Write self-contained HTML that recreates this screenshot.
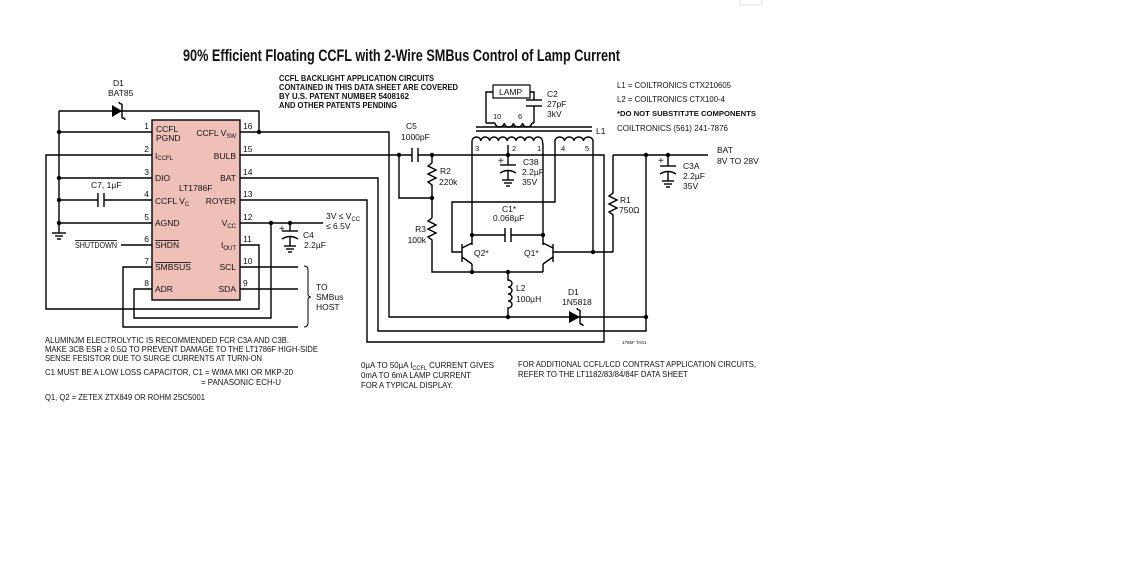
<!DOCTYPE html>
<html><head><meta charset="utf-8"><style>
html,body{margin:0;padding:0;background:#fff;width:1136px;height:583px;overflow:hidden}
svg{display:block}
text{font-family:"Liberation Sans",sans-serif;fill:#111}
.l{font-size:8.5px}
.b{font-weight:bold}
</style></head><body>
<svg width="1136" height="583" viewBox="0 0 1136 583" xmlns="http://www.w3.org/2000/svg">
<rect x="740" y="-1" width="22" height="6" fill="none" stroke="#ddd"/>
<text x="183" y="61" class="b" font-size="16.5" textLength="437" lengthAdjust="spacingAndGlyphs">90% Efficient Floating CCFL with 2-Wire SMBus Control of Lamp Current</text>
<g class="l b" font-size="8">
<text x="279" y="81" textLength="155" lengthAdjust="spacingAndGlyphs">CCFL BACKLIGHT APPLICATION CIRCUITS</text>
<text x="279" y="90" textLength="179" lengthAdjust="spacingAndGlyphs">CONTAINED IN THIS DATA SHEET ARE COVERED</text>
<text x="279" y="99" textLength="130" lengthAdjust="spacingAndGlyphs">BY U.S. PATENT NUMBER 5408162</text>
<text x="279" y="108" textLength="118" lengthAdjust="spacingAndGlyphs">AND OTHER PATENTS PENDING</text>
</g>
<g stroke="#000" stroke-width="1.4" fill="none">
<rect x="152" y="120" width="88" height="180" fill="#efc0b8"/>
<polyline points="59,111 259,111 259,132"/>
<line x1="59" y1="111" x2="59" y2="233"/>
<line x1="59" y1="132" x2="152" y2="132"/>
<line x1="59" y1="178" x2="152" y2="178"/>
<line x1="59" y1="200" x2="98" y2="200"/><line x1="104" y1="200" x2="152" y2="200"/>
<line x1="98" y1="193" x2="98" y2="207"/><line x1="104" y1="193" x2="104" y2="207"/>
<line x1="59" y1="223" x2="152" y2="223"/>
<line x1="52" y1="233" x2="66" y2="233"/><line x1="55" y1="236" x2="63" y2="236"/><line x1="57" y1="239" x2="61" y2="239"/>
<polyline points="152,155 46,155 46,309 259,309 259,245 240,245"/>
<line x1="121" y1="245" x2="152" y2="245"/>
<polyline points="152,267 123,267 123,327 298,327"/>
<polyline points="152,289 134,289 134,318 271,318 271,223"/>
<polyline points="240,132 389,132 389,317 646,317"/>
<polyline points="240,155 412,155"/>
<line x1="412" y1="148" x2="412" y2="162"/><line x1="418" y1="148" x2="418" y2="162"/>
<polyline points="418,155 604,155 604,342 367,342 367,200 240,200"/>
<polyline points="240,178 378,178 378,331 646,331 646,155"/>
<polyline points="399,155 399,198 432,198"/>
<line x1="240" y1="223" x2="323" y2="223"/>
<line x1="290" y1="223" x2="290" y2="231"/>
<line x1="282" y1="231" x2="298" y2="231"/>
<path d="M282,239 Q290,234 298,239"/>
<line x1="290" y1="236" x2="290" y2="246"/><line x1="284" y1="246" x2="296" y2="246"/><line x1="286" y1="249" x2="294" y2="249"/><line x1="288" y1="252" x2="292" y2="252"/>
<line x1="240" y1="267" x2="298" y2="267"/>
<line x1="240" y1="289" x2="298" y2="289"/>
<path d="M304,266 Q308,266 308,270 L308,294 Q308,297 311,297 Q308,297 308,300 L308,323 Q308,327 304,327" stroke-width="1"/>
<line x1="432" y1="155" x2="432" y2="163"/>
<polyline points="432,163 428,166 436,170 428,174 436,178 428,182 432,185 432,198"/>
<line x1="432" y1="198" x2="432" y2="218"/>
<polyline points="432,218 428,221 436,225 428,229 436,233 428,237 432,240 432,272 543,272"/>
<line x1="476" y1="127" x2="592" y2="127"/><line x1="476" y1="131" x2="592" y2="131"/>
<path d="M472,145 L472,141 a4.4,4 0 0 1 8.8,0 a4.4,4 0 0 1 8.8,0 a4.4,4 0 0 1 8.8,0 a4.4,4 0 0 1 8.8,0 a4.4,4 0 0 1 8.8,0 a4.4,4 0 0 1 8.8,0 a4.4,4 0 0 1 8.8,0 a4.4,4 0 0 1 8.8,0 L543,145"/>
<path d="M555,145 L555,141 a4.75,4 0 0 1 9.5,0 a4.75,4 0 0 1 9.5,0 a4.75,4 0 0 1 9.5,0 a4.75,4 0 0 1 9.5,0 L593,145"/>
<path d="M486,123 L486,92 L493,92 M530,92 L534,92 L534,100 M534,106 L534,123 M495,123 a4.6,4 0 0 0 9.2,0 a4.6,4 0 0 0 9.2,0 a4.6,4 0 0 0 9.2,0 a4.6,4 0 0 0 9.2,0 M486,123 L495,123 M532,123 L534,123"/>
<rect x="493" y="85" width="37" height="13" stroke-width="1.2"/>
<line x1="526" y1="100" x2="542" y2="100"/><line x1="526" y1="106" x2="542" y2="106"/>
<line x1="472" y1="145" x2="472" y2="245"/>
<line x1="543" y1="145" x2="543" y2="245"/>
<line x1="508" y1="145" x2="508" y2="165"/>
<line x1="500" y1="165" x2="516" y2="165"/><path d="M500,173 Q508,168 516,173"/>
<line x1="508" y1="170" x2="508" y2="180"/><line x1="502" y1="180" x2="514" y2="180"/><line x1="504" y1="183" x2="512" y2="183"/><line x1="506" y1="186" x2="510" y2="186"/>
<line x1="472" y1="235" x2="505" y2="235"/><line x1="511" y1="235" x2="543" y2="235"/>
<line x1="505" y1="228" x2="505" y2="242"/><line x1="511" y1="228" x2="511" y2="242"/>
<polyline points="555,145 555,202 452,202 452,252 462,252"/>
<line x1="462" y1="244" x2="462" y2="262"/>
<line x1="462" y1="248" x2="472" y2="243"/>
<line x1="462" y1="257" x2="472" y2="264"/><line x1="472" y1="264" x2="472" y2="272"/>
<line x1="553" y1="244" x2="553" y2="262"/>
<line x1="553" y1="248" x2="543" y2="243"/>
<line x1="553" y1="257" x2="543" y2="264"/><line x1="543" y1="264" x2="543" y2="272"/>
<polyline points="553,252 613,252"/>
<line x1="593" y1="145" x2="593" y2="252"/>
<polyline points="613,155 613,193 609,196 617,200 609,204 617,208 609,212 613,215 613,252"/>
<line x1="613" y1="155" x2="708" y2="155"/>
<line x1="668" y1="155" x2="668" y2="166"/>
<line x1="660" y1="166" x2="676" y2="166"/><path d="M660,174 Q668,169 676,174"/>
<line x1="668" y1="171" x2="668" y2="181"/><line x1="662" y1="181" x2="674" y2="181"/><line x1="664" y1="184" x2="672" y2="184"/><line x1="666" y1="187" x2="670" y2="187"/>
<path d="M508,272 L508,280 a4,3.5 0 0 1 0,7 a4,3.5 0 0 1 0,7 a4,3.5 0 0 1 0,7 a4,3.5 0 0 1 0,7 L508,317"/>
</g>
<polygon points="112,105 112,117 122,111" fill="#000"/>
<path d="M122,104 L122,118 M122,104 Q119,104 119,102 M122,118 Q125,118 125,120" stroke="#000" stroke-width="1.4" fill="none"/>
<polygon points="569,311 569,323 580,317" fill="#000"/>
<path d="M580,310 L580,324 M580,310 Q577,310 577,308 M580,324 Q583,324 583,326" stroke="#000" stroke-width="1.4" fill="none"/>
<g fill="#000">
<circle cx="59" cy="132" r="2.2"/><circle cx="59" cy="178" r="2.2"/><circle cx="59" cy="200" r="2.2"/><circle cx="59" cy="223" r="2.2"/>
<circle cx="259" cy="132" r="2.2"/><circle cx="271" cy="223" r="2.2"/><circle cx="290" cy="223" r="2.2"/>
<circle cx="399" cy="155" r="2.2"/><circle cx="432" cy="155" r="2.2"/><circle cx="432" cy="198" r="2.2"/>
<circle cx="508" cy="155" r="2.2"/><circle cx="472" cy="235" r="2.2"/><circle cx="543" cy="235" r="2.2"/>
<circle cx="472" cy="272" r="2.2"/><circle cx="508" cy="272" r="2.2"/><circle cx="508" cy="317" r="2.2"/>
<circle cx="593" cy="252" r="2.2"/><circle cx="646" cy="155" r="2.2"/><circle cx="646" cy="317" r="2.2"/><circle cx="668" cy="155" r="2.2"/>
</g>
<g class="l">
<text x="113" y="86">D1</text><text x="108" y="96">BAT85</text>
<text x="91" y="188">C7, 1µF</text>
<text x="75" y="248" text-decoration="overline" textLength="42" lengthAdjust="spacingAndGlyphs">SHUTDOWN</text>
<g text-anchor="end"><text x="149" y="129">1</text><text x="149" y="152">2</text><text x="149" y="175">3</text><text x="149" y="197">4</text><text x="149" y="220">5</text><text x="149" y="242">6</text><text x="149" y="264">7</text><text x="149" y="286">8</text></g>
<text x="243" y="129">16</text><text x="243" y="152">15</text><text x="243" y="175">14</text><text x="243" y="197">13</text><text x="243" y="220">12</text><text x="243" y="242">11</text><text x="243" y="264">10</text><text x="243" y="286">9</text>
<text x="156" y="132">CCFL</text><text x="156" y="141">PGND</text>
<text x="155" y="159">I<tspan font-size="6" dy="1">CCFL</tspan></text>
<text x="155" y="181">DIO</text>
<text x="155" y="204">CCFL V<tspan font-size="6" dy="2">C</tspan></text>
<text x="155" y="226">AGND</text>
<text x="155" y="248" text-decoration="overline">SHDN</text>
<text x="155" y="270" text-decoration="overline">SMBSUS</text>
<text x="155" y="292">ADR</text>
<text x="179" y="191">LT1786F</text>
<g text-anchor="end">
<text x="236" y="136">CCFL V<tspan font-size="6" dy="2">SW</tspan></text>
<text x="236" y="159">BULB</text><text x="236" y="181">BAT</text><text x="236" y="204">ROYER</text>
<text x="236" y="226">V<tspan font-size="6" dy="2">CC</tspan></text>
<text x="236" y="248">I<tspan font-size="6" dy="2">OUT</tspan></text>
<text x="236" y="270">SCL</text><text x="236" y="292">SDA</text>
</g>
<text x="326" y="219">3V ≤ V<tspan font-size="6" dy="2">CC</tspan></text><text x="326" y="229">≤ 6.5V</text>
<text x="279" y="232" font-size="10">+</text>
<text x="303" y="238">C4</text><text x="304" y="248">2.2µF</text>
<text x="316" y="290">TO</text><text x="316" y="300">SMBus</text><text x="316" y="310">HOST</text>
<text x="406" y="129">C5</text><text x="401" y="140">1000pF</text>
<text x="440" y="174">R2</text><text x="439" y="185">220k</text>
<text x="426" y="232" text-anchor="end">R3</text><text x="426" y="243" text-anchor="end">100k</text>
<text x="499" y="95">LAMP</text>
<text x="547" y="97">C2</text><text x="547" y="107">27pF</text><text x="547" y="117">3kV</text>
<text x="493" y="119" font-size="7.5">10</text><text x="518" y="119" font-size="7.5">6</text>
<text x="596" y="134">L1</text>
<text x="475" y="151" font-size="7.5">3</text><text x="512" y="151" font-size="7.5">2</text><text x="537" y="151" font-size="7.5">1</text>
<text x="561" y="151" font-size="7.5">4</text><text x="585" y="151" font-size="7.5">5</text>
<text x="498" y="164" font-size="10">+</text>
<text x="523" y="165">C38</text><text x="522" y="175">2.2µF</text><text x="522" y="185">35V</text>
<text x="502" y="212">C1*</text><text x="493" y="221">0.068µF</text>
<text x="474" y="256">Q2*</text><text x="524" y="256">Q1*</text>
<text x="516" y="291">L2</text><text x="516" y="302">100µH</text>
<text x="568" y="295">D1</text><text x="562" y="305">1N5818</text>
<text x="620" y="203">R1</text><text x="619" y="213">750Ω</text>
<text x="658" y="164" font-size="10">+</text>
<text x="683" y="169">C3A</text><text x="683" y="179">2.2µF</text><text x="683" y="189">35V</text>
<text x="717" y="153">BAT</text><text x="717" y="164">8V TO 28V</text>
<text x="617" y="88" textLength="114" lengthAdjust="spacingAndGlyphs">L1 = COILTRONICS CTX210605</text>
<text x="617" y="102" textLength="108" lengthAdjust="spacingAndGlyphs">L2 = COILTRONICS CTX100-4</text>
<text x="617" y="116" class="b" font-size="7.5" textLength="139" lengthAdjust="spacingAndGlyphs">*DO NOT SUBSTITJTE COMPONENTS</text>
<text x="617" y="131" textLength="111" lengthAdjust="spacingAndGlyphs">COILTRONICS (561) 241-7876</text>
<text x="622" y="344" font-size="4.5">1786F TA01</text>
<text x="45" y="343" textLength="244" lengthAdjust="spacingAndGlyphs">ALUMINJM ELECTROLYTIC IS RECOMMENDED FCR C3A AND C3B.</text>
<text x="45" y="352" textLength="273" lengthAdjust="spacingAndGlyphs">MAKE 3CB ESR ≥ 0.5Ω TO PREVENT DAMAGE TO THE LT1786F HIGH-SIDE</text>
<text x="45" y="361" textLength="217" lengthAdjust="spacingAndGlyphs">SENSE FESISTOR DUE TO SURGE CURRENTS AT TURN-ON</text>
<text x="45" y="375" textLength="248" lengthAdjust="spacingAndGlyphs">C1 MUST BE A LOW LOSS CAPACITOR, C1 = WIMA MKI OR MKP-20</text>
<text x="201" y="385" textLength="80" lengthAdjust="spacingAndGlyphs">= PANASONIC ECH-U</text>
<text x="45" y="400" textLength="160" lengthAdjust="spacingAndGlyphs">Q1, Q2 = ZETEX ZTX849 OR ROHM 2SC5001</text>
<text x="361" y="368" textLength="133" lengthAdjust="spacingAndGlyphs">0µA TO 50µA I<tspan font-size="6" dy="2">CCFL</tspan><tspan dy="-2"> CURRENT GIVES</tspan></text>
<text x="361" y="378" textLength="110" lengthAdjust="spacingAndGlyphs">0mA TO 6mA LAMP CURRENT</text>
<text x="361" y="388" textLength="92" lengthAdjust="spacingAndGlyphs">FOR A TYPICAL DISPLAY.</text>
<text x="518" y="367" textLength="238" lengthAdjust="spacingAndGlyphs">FOR ADDITIONAL CCFL/LCD CONTRAST APPLICATION CIRCUITS,</text>
<text x="518" y="377" textLength="170" lengthAdjust="spacingAndGlyphs">REFER TO THE LT1182/83/84/84F DATA SHEET</text>
</g>
</svg>
</body></html>
